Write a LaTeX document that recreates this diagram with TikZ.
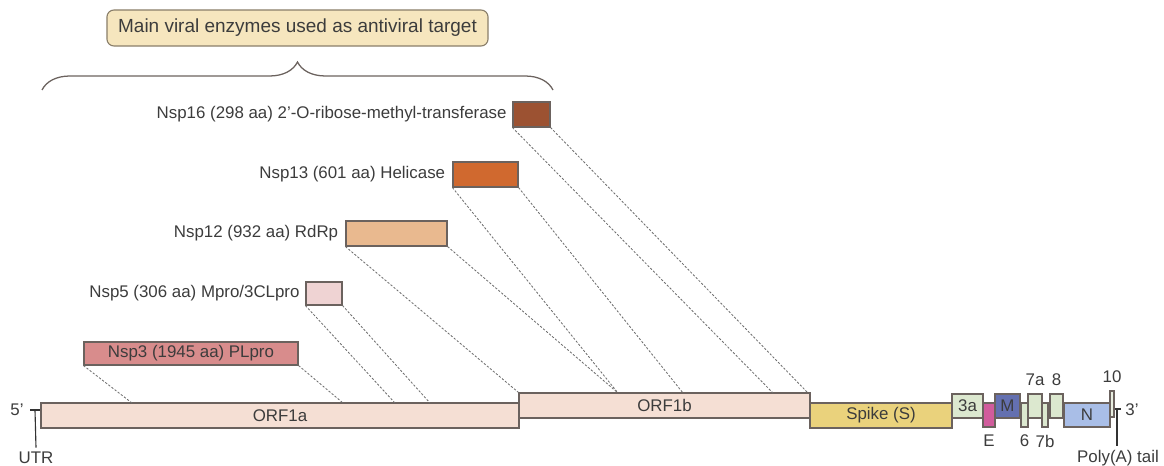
\documentclass[tikz,border=0pt]{standalone}
\usepackage{fontspec}
\setmainfont{Liberation Sans}
\usepackage{xcolor}
\usetikzlibrary{positioning,fit,decorations.pathreplacing}
\definecolor{cedge}{HTML}{6B625E}
\definecolor{cdash}{HTML}{6E6E6E}
\definecolor{ctext}{HTML}{3C3C3C}
\definecolor{ctitle}{HTML}{F6E6BE}
\definecolor{ctitleline}{HTML}{8A7F6A}
\definecolor{cnspa}{HTML}{9C5232}
\definecolor{cnspb}{HTML}{D0692F}
\definecolor{cnspc}{HTML}{E9B98F}
\definecolor{cnspd}{HTML}{EFD3D3}
\definecolor{cnspe}{HTML}{D88C8C}
\definecolor{corf}{HTML}{F5DFD4}
\definecolor{cspike}{HTML}{EAD27C}
\definecolor{cgreen}{HTML}{DCE8CF}
\definecolor{cenv}{HTML}{D15C9C}
\definecolor{cmem}{HTML}{6470B0}
\definecolor{cnuc}{HTML}{A9BEE7}
\definecolor{cten}{HTML}{E8EEE0}

\begin{document}
\begin{tikzpicture}[
    x=0.025cm, y=-0.025cm,
    font=\fontsize{12}{14}\selectfont, text=ctext,
    enz/.style={draw=cedge,line width=0.8pt,inner sep=0pt},
    gene/.style={enz,fill=corf},
    lbl/.style={inner sep=0pt},
    link/.style={draw=cdash,line width=0.6pt,dash pattern=on 1.6pt off 1.2pt},
    tick/.style={draw=black!80,line width=0.8pt}]
  \useasboundingbox (0,0) rectangle (1164,466);
  % header and brace
  \node[draw=ctitleline,fill=ctitle,rounded corners=5pt,line width=0.8pt,
        minimum width=9.525cm,minimum height=0.9cm,
        font=\fontsize{13.5}{16}\selectfont] (title) at (297.5,28)
        {Main viral enzymes used as antiviral target};
  \coordinate (bl) at (42,90);
  \coordinate (br) at (553,90);
  \draw[cedge,line width=0.9pt,decorate,decoration={brace,amplitude=0.7cm}] (bl) -- (br);
  % enzymes
  \node[enz,fill=cnspa,fit={(513,102)(550,127)}] (nsp16) {};
  \node[lbl,left=4pt of nsp16] (l16) {Nsp16 (298 aa) 2'-O-ribose-methyl-transferase};
  \node[enz,fill=cnspb,fit={(453,162)(518,187)}] (nsp13) {};
  \node[lbl,left=5pt of nsp13] (l13) {Nsp13 (601 aa) Helicase};
  \node[enz,fill=cnspc,fit={(346,221)(447,246)}] (nsp12) {};
  \node[lbl,left=5pt of nsp12] (l12) {Nsp12 (932 aa) RdRp};
  \node[enz,fill=cnspd,fit={(306,282)(342,305)}] (nsp5) {};
  \node[lbl,left=4pt of nsp5] (l5) {Nsp5 (306 aa) Mpro/3CLpro};
  \node[enz,fill=cnspe,fit={(84,342)(298,365)}] (nsp3) {};
  \node[lbl] (l3) at (nsp3.center) {Nsp3 (1945 aa) PLpro};
  % genome
  \node[gene,fit={(41,403)(519,428)}] (orf1a) {};
  \node[gene,fit={(519,393)(810,418)}] (orf1b) {};
  \node[enz,fill=cspike,fit={(810,403)(952,428)}] (spike) {};
  \node[enz,fit={(952,403)(1110,418)}] (tail) {};
  \node[enz,fill=cgreen,fit={(952,394)(983,418)}] (orf3a) {};
  \node[enz,fill=cenv,fit={(983,403)(995,427)}] (orfE) {};
  \node[enz,fill=cmem,fit={(995,394)(1020,418)}] (orfM) {};
  \node[enz,fill=cgreen,fit={(1021,403)(1028,427)}] (orf6) {};
  \node[enz,fill=cgreen,fit={(1028,394)(1042,418)}] (orf7a) {};
  \node[enz,fill=cgreen,fit={(1042,403)(1048,427)}] (orf7b) {};
  \node[enz,fill=cgreen,fit={(1050,394)(1063,418)}] (orf8) {};
  \node[enz,fill=cnuc,fit={(1064,403)(1110,427)}] (orfN) {};
  \node[enz,fill=cten,fit={(1110,391)(1114,417)}] (orf10) {};
  \node[lbl] at (orf1a.center) {ORF1a};
  \node[lbl] at (orf1b.center) {ORF1b};
  \node[lbl] at (spike.center) {Spike (S)};
  \node[lbl] at (orf3a.center) {3a};
  \node[lbl] at (orfM.center) {M};
  \node[lbl] at (orfN.center) {N};
  \node[lbl,above=5pt of orf7a] (l7a) {7a};
  \node[lbl,above=5pt of orf8] (l8) {8};
  \node[lbl,above=5pt of orf10] (l10) {10};
  \node[lbl,below=5pt of orfE] (lE) {E};
  \node[lbl,below=5pt of orf6] (l6) {6};
  \node[lbl,below=5pt of orf7b] (l7b) {7b};
  % ends
  \node[lbl] (five) at (17,410) {5'};
  \coordinate (fiveend) at (30,410);
  \coordinate (utr) at (35,410);
  \node[lbl] (utrl) at (36,458) {UTR};
  \draw[tick,line width=1.6pt] (fiveend) -- (orf1a.west |- fiveend);
  \draw[tick] (utr) -- ([yshift=3pt]utrl.north);
  \coordinate (polyA) at (1117,409);
  \node[lbl] (three) at (1132,410) {3'};
  \node[lbl] (polyl) at (1118,458) {Poly(A) tail};
  \draw[tick,line width=1.6pt] (orf10.east |- polyA) -- ++(6,0);
  \draw[tick] (polyA) -- ([yshift=3pt]polyl.north -| polyA);
  % dashed links
  \coordinate (c3a) at (132,403);
  \coordinate (c3b) at (343,403);
  \coordinate (c5a) at (395,403);
  \coordinate (c5b) at (430,403);
  \coordinate (c12b) at (618,393);
  \coordinate (c13b) at (683,393);
  \coordinate (c16a) at (773,393);
  \coordinate (c16b) at (808,393);
  \draw[link] (nsp3.south west) -- (c3a);
  \draw[link] (nsp3.south east) -- (c3b);
  \draw[link] (nsp5.south west) -- (c5a);
  \draw[link] (nsp5.south east) -- (c5b);
  \draw[link] (nsp12.south west) -- (orf1b.north west);
  \draw[link] (nsp12.south east) -- (c12b);
  \draw[link] (nsp13.south west) -- (c12b);
  \draw[link] (nsp13.south east) -- (c13b);
  \draw[link] (nsp16.south west) -- (c16a);
  \draw[link] (nsp16.south east) -- (c16b);
\end{tikzpicture}
\end{document}
